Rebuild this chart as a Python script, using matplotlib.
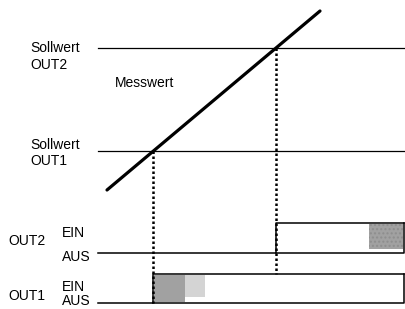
import matplotlib.pyplot as plt
import numpy as np

plt.rcParams["font.family"] = ["Liberation Sans", "DejaVu Sans"]

# schematic in image units (x right, y down)
ramp_x = [107, 320]
ramp_y = [190, 11]
setpoints = {"OUT2": 48, "OUT1": 151}
x_left, x_right = 98, 404
out2_levels = (253, 223)   # AUS, EIN
out1_levels = (303, 274)

fig = plt.figure(figsize=(4.05, 3.09), dpi=100)
ax = fig.add_axes([0, 0, 1, 1])
ax.set_xlim(0, 405)
ax.set_ylim(309, 0)
ax.axis("off")

# setpoint lines
for name, y in setpoints.items():
    ax.plot([x_left, x_right], [y, y], color="black", lw=0.9)

# measured value ramp
ax.plot(ramp_x, ramp_y, color="black", lw=2.3, solid_capstyle="round")

slope = (ramp_y[1] - ramp_y[0]) / (ramp_x[1] - ramp_x[0])
def cross(y):
    return ramp_x[0] + (y - ramp_y[0]) / slope

x1 = cross(setpoints["OUT1"])
x2 = cross(setpoints["OUT2"])

# scanned grey texture
ax.fill_between([369, x_right - 1], out2_levels[1] + 1, out2_levels[0] - 4,
                color="#8a8a8a", lw=0, alpha=0.8, hatch="....")
ax.fill_between([x1 + 1, 185], out1_levels[1] + 1, out1_levels[0] - 1,
                color="#8a8a8a", lw=0, alpha=0.8)
ax.fill_between([185, 205], out1_levels[1] + 1, out1_levels[0] - 6,
                color="#b8b8b8", lw=0, alpha=0.6)

# OUT2 switching signal
ax.plot([x_left, x2, x2, x_right], [out2_levels[0], out2_levels[0], out2_levels[1], out2_levels[1]],
        color="black", lw=1.1)
ax.plot([x2, x_right, x_right], [out2_levels[0], out2_levels[0], out2_levels[1]], color="black", lw=1.1)
# OUT1 switching signal
ax.plot([x_left, x1, x1, x_right], [out1_levels[0], out1_levels[0], out1_levels[1], out1_levels[1]],
        color="black", lw=1.1)
ax.plot([x1, x_right, x_right], [out1_levels[0], out1_levels[0], out1_levels[1]], color="black", lw=1.1)

# dotted guides
ax.plot([x1, x1], [setpoints["OUT1"], out1_levels[0]], color="black", lw=1.8, ls=(0, (1, 1)))
ax.plot([x2, x2], [setpoints["OUT2"], out1_levels[1]], color="black", lw=1.8, ls=(0, (1, 1)))

fs = 10
ax.text(30, 48, "Sollwert", fontsize=fs, va="center")
ax.text(30, 65, "OUT2", fontsize=fs, va="center")
ax.text(115, 83, "Messwert", fontsize=fs, va="center")
ax.text(30, 145, "Sollwert", fontsize=fs, va="center")
ax.text(30, 161, "OUT1", fontsize=fs, va="center")
ax.text(8, 241, "OUT2", fontsize=fs, va="center")
ax.text(62, 233, "EIN", fontsize=fs, va="center")
ax.text(62, 257, "AUS", fontsize=fs, va="center")
ax.text(8, 296, "OUT1", fontsize=fs, va="center")
ax.text(62, 287, "EIN", fontsize=fs, va="center")
ax.text(62, 308, "AUS", fontsize=fs, va="bottom")

fig.savefig("out.png", dpi=100)
